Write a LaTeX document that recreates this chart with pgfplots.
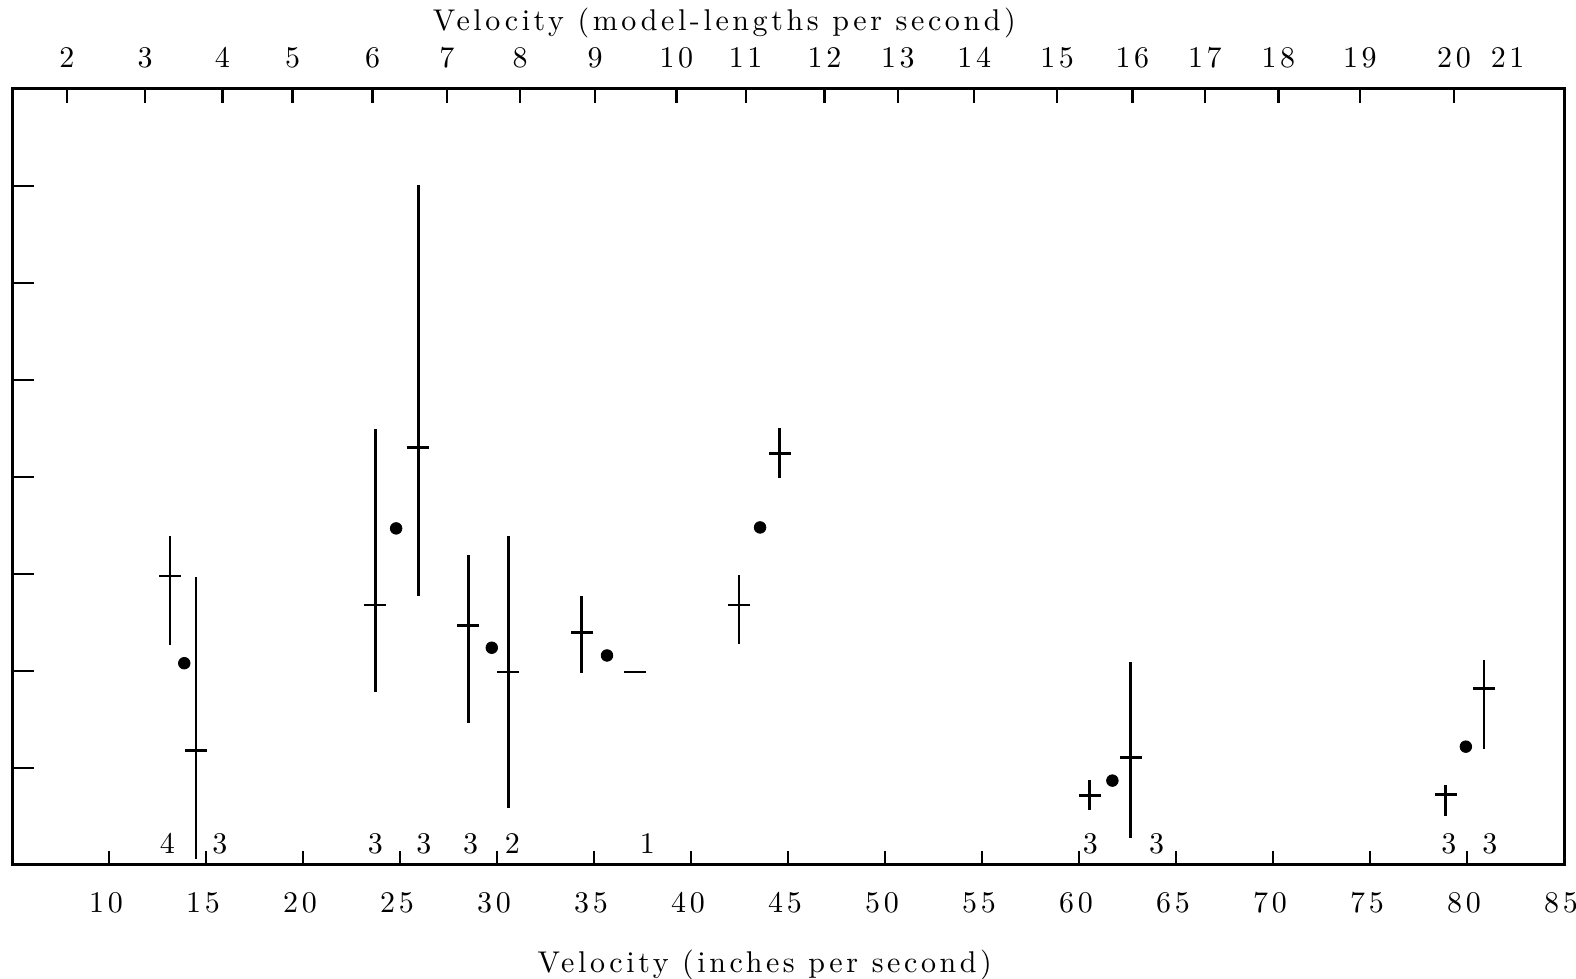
\documentclass[border=0pt]{standalone}
\usepackage{fontspec}
\usepackage{pgfplots}
\pgfplotsset{compat=1.18}
\usepackage{pgfplotstable}
\newfontfamily\lbl{lmroman10-regular.otf}[LetterSpace=12]
\newcommand{\lblfont}{\lbl\fontsize{15}{18}\selectfont}

\pgfplotstableread{
x y ep em
13.14 2.98 0.41 0.71
14.48 1.18 1.79 1.12
23.73 2.68 1.81 0.90
25.94 4.30 2.71 1.53
28.52 2.47 0.73 1.01
30.58 1.99 1.40 1.40
34.36 2.40 0.37 0.42
37.12 1.99 0.00 0.00
42.47 2.68 0.31 0.40
44.57 4.24 0.26 0.25
60.56 0.72 0.16 0.15
62.66 1.11 0.98 0.83
78.90 0.73 0.09 0.23
80.87 1.82 0.29 0.62
}\crosses

\pgfplotstableread{
x y
13.88 2.08
24.80 3.47
29.73 2.24
35.67 2.16
43.56 3.48
61.72 0.87
79.94 1.22
}\dots

\pgfplotstableread{
x y n
13.01 0.22 4
15.72 0.22 3
23.73 0.22 3
26.23 0.22 3
28.64 0.22 3
30.79 0.22 2
37.75 0.22 1
60.59 0.22 3
64.00 0.22 3
79.06 0.22 3
81.18 0.22 3
}\counts

\begin{document}
\begin{tikzpicture}[font=\lblfont]
\pgfplotsset{
  common/.style={
    scale only axis, width=776pt, height=388pt,
    xmin=5, xmax=85, ymin=0, ymax=8,
    axis line style={line width=1.5pt, black},
    tick align=inside,
    tick style={line width=1.2pt, black},
    /pgf/number format/assume math mode=true,
    ticklabel style={font=\lblfont},
    label style={font=\lblfont},
  }
}
% main axis: bottom ticks and data
\begin{axis}[common, name=ax,
  xtick={10,15,...,85}, xtick pos=left, xticklabel pos=left,
  major tick length=7pt,
  ytick=\empty,
  xticklabel style={yshift=-10pt, xshift=-1.5pt},
  xlabel={Velocity (inches per second)},
  xlabel style={at={(axis description cs:0.485,0)}, anchor=center, yshift=-50pt},
]
\addplot[black, only marks, mark=-, mark size=5.5pt, mark options={line width=1.4pt},
  error bars/.cd, y dir=both, y explicit, error mark=none,
  error bar style={line width=1.4pt, black}]
  table[x=x, y=y, y error plus=ep, y error minus=em] {\crosses};
\addplot[black, only marks, mark=*, mark size=2.9pt] table[x=x, y=y] {\dots};
\addplot[only marks, mark=none, nodes near coords, point meta=explicit symbolic,
  every node near coord/.style={anchor=center, font=\lblfont, black}]
  table[x=x, y=y, meta=n] {\counts};
\end{axis}
% top axis
\begin{axis}[common,
  xtick={7.83,11.86,15.84,19.46,23.59,27.42,31.19,35.06,39.25,42.82,46.88,50.66,54.60,58.87,62.75,66.49,70.28,74.48,79.33},
  xticklabels={2,3,4,5,6,7,8,9,10,11,12,13,14,15,16,17,18,19,20},
  extra x ticks={82.09}, extra x tick labels={21},
  extra x tick style={major tick length=0pt, xticklabel pos=right},
  xtick pos=right, xticklabel pos=right,
  major tick length=7pt,
  ytick=\empty,
  xticklabel style={yshift=7pt},
  xlabel={Velocity (model-lengths per second)},
  xlabel style={at={(axis description cs:0.459,1)}, anchor=center, yshift=33pt},
]
\end{axis}
% left ticks
\begin{axis}[common,
  xtick=\empty,
  ytick={1,...,7}, yticklabels={}, ytick pos=left,
  major tick length=11pt,
]
\end{axis}
\pgfresetboundingbox
\path ([shift={(-6pt,-56.8pt)}]ax.south west) rectangle ([shift={(6pt,44.5pt)}]ax.north east);
\end{tikzpicture}
\end{document}
